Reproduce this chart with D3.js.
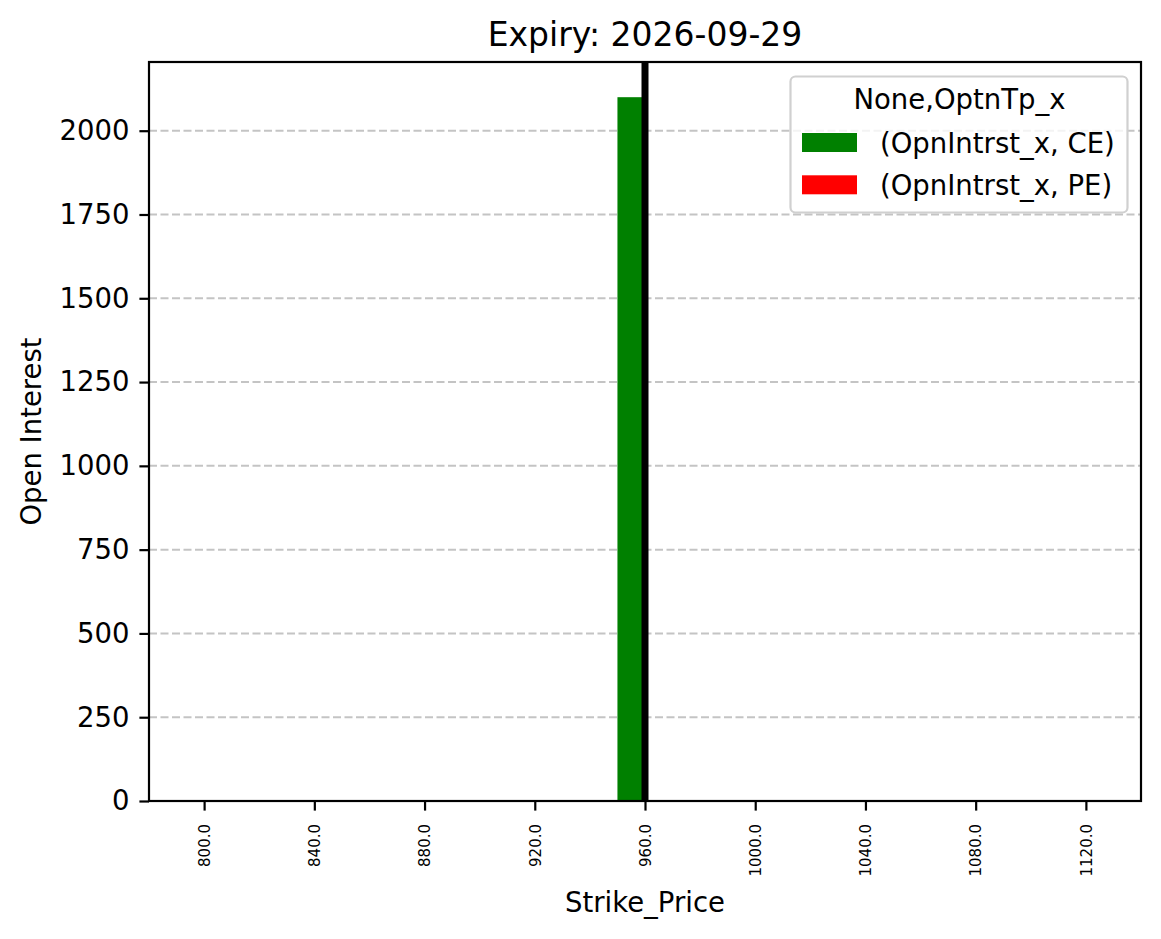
<!DOCTYPE html>
<html>
<head>
<meta charset="utf-8">
<script src="https://cdn.jsdelivr.net/npm/d3@7"></script>
<style>
  body { margin: 0; background: #fff; }
  text { font-family: "DejaVu Sans", sans-serif; fill: #000; }
</style>
</head>
<body>
<svg id="chart" width="1161" height="939"></svg>
<script>
const strikes = [800, 840, 880, 920, 960, 1000, 1040, 1080, 1120];
const ceOI = [0, 0, 0, 0, 2100, 0, 0, 0, 0];
const peOI = [0, 0, 0, 0, 0, 0, 0, 0, 0];
const yTicks = [0, 250, 500, 750, 1000, 1250, 1500, 1750, 2000];
const underlying = 960;
const title = "Expiry: 2026-09-29";
const seriesNames = ["(OpnIntrst_x, CE)", "(OpnIntrst_x, PE)"];
const seriesColors = ["green", "red"];

const svg = d3.select("#chart");
const m = {left: 149, right: 1141, top: 62, bottom: 801};
const FS = 27.5;

const x = d3.scaleLinear().domain([-0.5, strikes.length - 0.5]).range([m.left, m.right]);
const yMax = d3.max(ceOI.concat(peOI)) * 1.05;
const y = d3.scaleLinear().domain([0, yMax]).range([m.bottom, m.top]);

// grid
svg.append("g").selectAll("line").data(yTicks).join("line")
  .attr("x1", m.left).attr("x2", m.right)
  .attr("y1", d => y(d)).attr("y2", d => y(d))
  .attr("stroke", "#b0b0b0").attr("stroke-opacity", 0.75)
  .attr("stroke-width", 2).attr("stroke-dasharray", "8,3.5");

// bars
const bw = 0.25;
const series = [ceOI, peOI];
series.forEach((vals, si) => {
  svg.append("g").selectAll("rect").data(vals.map((v, i) => ({v, i}))).join("rect")
    .attr("x", d => x(d.i - 0.25 + si * bw))
    .attr("width", d => x(d.i - 0.25 + (si + 1) * bw) - x(d.i - 0.25 + si * bw))
    .attr("y", d => y(d.v))
    .attr("height", d => y(0) - y(d.v))
    .attr("fill", seriesColors[si]);
});

// underlying line
const ui = strikes.indexOf(underlying);
svg.append("line")
  .attr("x1", x(ui)).attr("x2", x(ui)).attr("y1", m.top).attr("y2", m.bottom)
  .attr("stroke", "#000").attr("stroke-width", 7);

// axes
const xAxis = d3.axisBottom(x).tickValues(d3.range(strikes.length))
  .tickFormat(i => strikes[i].toFixed(1)).tickSizeOuter(0).tickSize(9.6);
const gx = svg.append("g").attr("transform", `translate(0,${m.bottom})`).call(xAxis);
gx.select(".domain").remove();
gx.selectAll(".tick line").attr("stroke-width", 2.2);
gx.selectAll(".tick text")
  .attr("font-size", 15)
  .attr("font-family", "DejaVu Sans")
  .attr("transform", "rotate(-90)")
  .attr("text-anchor", "end")
  .attr("dy", "0.35em")
  .attr("x", -23).attr("y", 0);

const yAxis = d3.axisLeft(y).tickValues(yTicks).tickFormat(d3.format("d"))
  .tickSizeOuter(0).tickSize(9.6).tickPadding(10);
const gy = svg.append("g").attr("transform", `translate(${m.left},0)`).call(yAxis);
gy.select(".domain").remove();
gy.selectAll(".tick line").attr("stroke-width", 2.2);
gy.selectAll(".tick text").attr("font-size", FS).attr("font-family", "DejaVu Sans");

// frame
svg.append("rect").attr("x", m.left).attr("y", m.top)
  .attr("width", m.right - m.left).attr("height", m.bottom - m.top)
  .attr("fill", "none").attr("stroke", "#000").attr("stroke-width", 2.2);

// title & labels
svg.append("text").attr("x", (m.left + m.right) / 2).attr("y", 46)
  .attr("text-anchor", "middle").attr("font-size", 33).text(title);
svg.append("text").attr("x", (m.left + m.right) / 2).attr("y", 912)
  .attr("text-anchor", "middle").attr("font-size", FS).text("Strike_Price");
svg.append("text").attr("transform", `translate(41,${(m.top + m.bottom) / 2}) rotate(-90)`)
  .attr("text-anchor", "middle").attr("font-size", FS).text("Open Interest");

// legend
const lg = svg.append("g");
lg.append("rect").attr("x", 790.5).attr("y", 76.5).attr("width", 337).attr("height", 136)
  .attr("rx", 5).attr("fill", "#fff").attr("fill-opacity", 0.8)
  .attr("stroke", "#d0d0d0").attr("stroke-width", 2.2);
lg.append("text").attr("x", 959.5).attr("y", 109).attr("text-anchor", "middle")
  .attr("font-size", FS).text("None,OptnTp_x");
seriesNames.forEach((n, i) => {
  lg.append("rect").attr("x", 802).attr("y", 133 + i * 42.3).attr("width", 55).attr("height", 19)
    .attr("fill", seriesColors[i]);
  lg.append("text").attr("x", 880).attr("y", 152.5 + i * 42.3).attr("font-size", FS).text(n);
});
</script>
</body>
</html>
